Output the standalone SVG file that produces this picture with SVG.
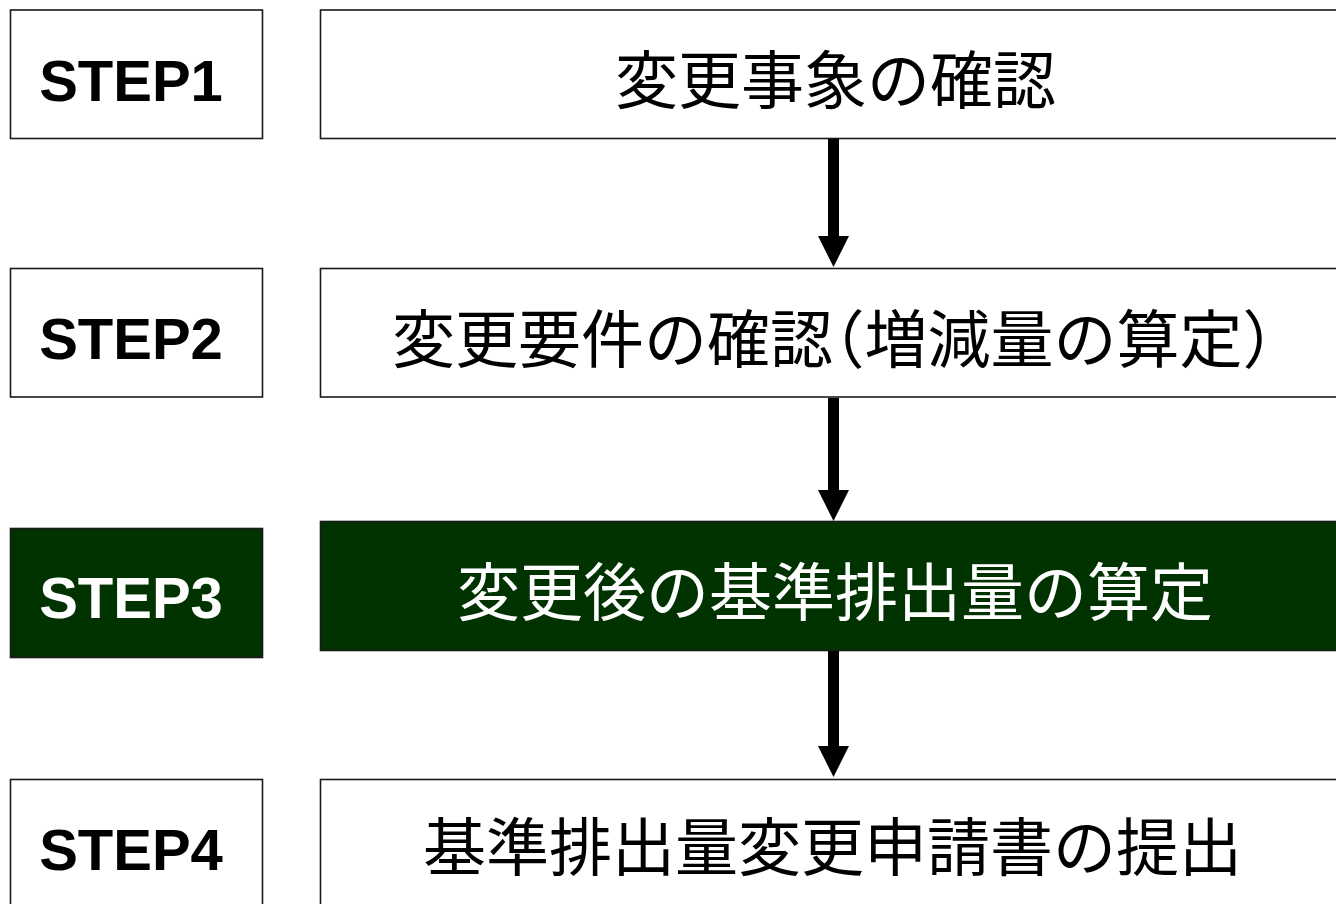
<svg xmlns="http://www.w3.org/2000/svg" width="1336" height="904" viewBox="0 0 1336 904">
  <style>
    .box { fill: #ffffff; stroke: #1a1a1a; stroke-width: 1.6; }
    .boxg { fill: #003300; stroke: #1a1a1a; stroke-width: 1.6; }
    .step { font-family: "Liberation Sans", Arial, sans-serif; font-weight: bold; font-size: 58px; text-anchor: middle; fill: #000; }
    .main { font-family: "Noto Sans CJK JP", "Noto Sans CJK SC", sans-serif; font-size: 63px; text-anchor: middle; fill: #000; }
    .half { font-feature-settings: "halt"; }
    .white { fill: #ffffff; }
    .conn { stroke: #000; stroke-width: 11; fill: none; }
  </style>
  <defs>
    <marker id="head" markerUnits="userSpaceOnUse" markerWidth="32" markerHeight="31" refX="1" refY="15.5" orient="auto">
      <path d="M0,0 L31,15.5 L0,31 Z" fill="#000"/>
    </marker>
  </defs>
  <rect width="1336" height="904" fill="#ffffff"/>

  <g id="step1">
    <rect class="box" x="10.5" y="10" width="252" height="128.5"/>
    <text class="step" x="131" y="101">STEP1</text>
  </g>
  <g id="node1">
    <rect class="box" x="320.5" y="10" width="1030" height="128.5"/>
    <text class="main" x="835.5" y="103">変更事象の確認</text>
  </g>

  <g id="step2">
    <rect class="box" x="10.5" y="268.5" width="252" height="128.5"/>
    <text class="step" x="131" y="359">STEP2</text>
  </g>
  <g id="node2">
    <rect class="box" x="320.5" y="268.5" width="1030" height="128.5"/>
    <text class="main half" x="833" y="362">変更要件の確認（増減量の算定）</text>
  </g>

  <g id="step3">
    <rect class="boxg" x="10.5" y="528.5" width="252" height="129"/>
    <text class="step white" x="131" y="618">STEP3</text>
  </g>
  <g id="node3">
    <rect class="boxg" x="320.5" y="521.5" width="1030" height="129"/>
    <text class="main white" x="835" y="615">変更後の基準排出量の算定</text>
  </g>

  <g id="step4">
    <rect class="box" x="10.5" y="779.5" width="252" height="140"/>
    <text class="step" x="131" y="870">STEP4</text>
  </g>
  <g id="node4">
    <rect class="box" x="320.5" y="779.5" width="1030" height="140"/>
    <text class="main" x="832.5" y="870">基準排出量変更申請書の提出</text>
  </g>

  <g id="connectors">
    <line class="conn" x1="833.5" y1="139" x2="833.5" y2="237" marker-end="url(#head)"/>
    <line class="conn" x1="833.5" y1="398" x2="833.5" y2="491" marker-end="url(#head)"/>
    <line class="conn" x1="833.5" y1="651" x2="833.5" y2="747" marker-end="url(#head)"/>
  </g>
</svg>
